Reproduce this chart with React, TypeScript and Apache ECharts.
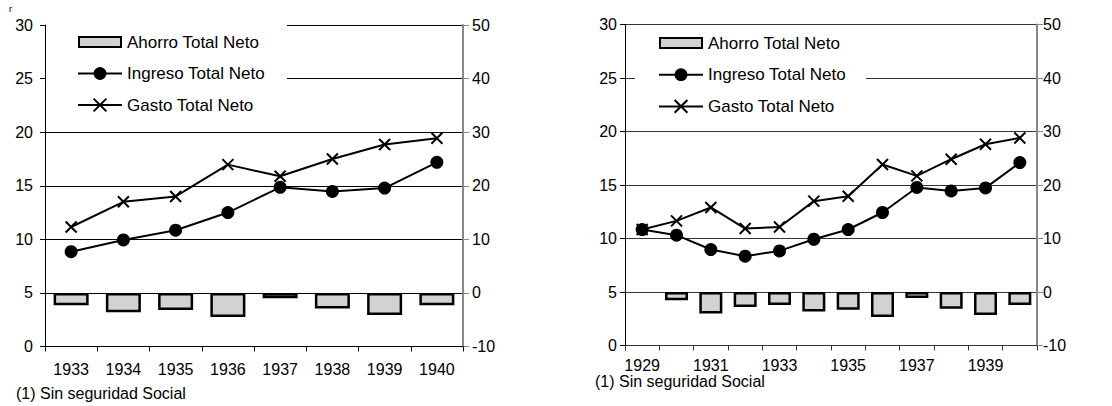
import React, { useEffect, useRef } from 'react';
import * as echarts from 'echarts';

const leftYears = ['1933', '1934', '1935', '1936', '1937', '1938', '1939', '1940'];
const leftAhorro = [-2.3, -3.6, -3.2, -4.5, -1.0, -2.9, -4.1, -2.3];
const leftIngreso = [8.85, 9.94, 10.85, 12.5, 14.85, 14.47, 14.78, 17.19];
const leftGasto = [11.15, 13.5, 14.0, 16.97, 15.88, 17.5, 18.85, 19.44];

const rightYears = ['1929', '1930', '1931', '1932', '1933', '1934', '1935', '1936', '1937', '1938', '1939', '1940'];
const rightAhorro = [null, -1.55, -4.0, -2.8, -2.45, -3.65, -3.3, -4.65, -1.1, -3.15, -4.3, -2.45];
const rightIngreso = [10.84, 10.31, 8.97, 8.35, 8.84, 9.93, 10.84, 12.43, 14.77, 14.45, 14.73, 17.1];
const rightGasto = [10.84, 11.65, 12.9, 10.93, 11.08, 13.49, 13.95, 16.92, 15.85, 17.41, 18.81, 19.4];

const leftTicks = { min: 0, max: 30, interval: 5 };
const rightTicks = { min: -10, max: 50, interval: 10 };

const names = ['Ahorro Total Neto', 'Ingreso Total Neto', 'Gasto Total Neto'];
const footnote = '(1) Sin seguridad Social';

const FONT = 'Liberation Sans, Arial, sans-serif';
const CROSS = 'path://M0,0L10,10M10,0L0,10';
const BAR_ICON = 'path://M0,0M44,16M1,3L43,3L43,13L1,13Z';

function makeAxes(gi: number, years: string[], opts: any) {
  const xAxis = {
    type: 'category',
    gridIndex: gi,
    data: years,
    axisLine: { show: true, lineStyle: { color: opts.xColor, width: 1 } },
    axisTick: { show: true, inside: false, length: 5, interval: 0, lineStyle: { color: opts.xColor } },
    axisLabel: { color: '#000', fontSize: 16, fontFamily: FONT, margin: opts.xMargin, interval: opts.labelInterval },
    splitLine: { show: false },
  };
  const yLeft = {
    type: 'value',
    gridIndex: gi,
    ...leftTicks,
    axisLine: { show: true, lineStyle: { color: '#000', width: 1 } },
    axisTick: { show: true, inside: false, length: 5, lineStyle: { color: '#000' } },
    axisLabel: { color: '#000', fontSize: 16, fontFamily: FONT, margin: opts.yMargin },
    splitLine: { show: true, lineStyle: { color: opts.gridColor, width: 1 } },
  };
  const yRight = {
    type: 'value',
    gridIndex: gi,
    position: 'right',
    ...rightTicks,
    axisLine: { show: true, lineStyle: { color: '#888', width: 2 } },
    axisTick: { show: true, inside: false, length: 6, lineStyle: { color: '#888' } },
    axisLabel: { color: '#000', fontSize: 16, fontFamily: FONT, margin: opts.yRMargin },
    splitLine: { show: false },
  };
  return { xAxis, yAxes: [yLeft, yRight] };
}

function makeSeries(xi: number, yl: number, yr: number, ahorro: any[], ingreso: number[], gasto: number[]) {
  return [
    {
      name: names[0],
      type: 'bar',
      xAxisIndex: xi,
      yAxisIndex: yr,
      data: ahorro,
      barWidth: '67%',
      itemStyle: { color: '#d2d2d2', borderColor: '#000', borderWidth: 2.5 },
      silent: true,
    },
    {
      name: names[1],
      type: 'line',
      xAxisIndex: xi,
      yAxisIndex: yl,
      data: ingreso,
      symbol: 'circle',
      symbolSize: 13,
      itemStyle: { color: '#000' },
      lineStyle: { color: '#000', width: 2 },
      silent: true,
    },
    {
      name: names[2],
      type: 'line',
      xAxisIndex: xi,
      yAxisIndex: yl,
      data: gasto,
      symbol: CROSS,
      symbolSize: 11,
      itemStyle: { color: '#000', borderColor: '#000', borderWidth: 2 },
      lineStyle: { color: '#000', width: 2 },
      z: 3,
      silent: true,
    },
  ];
}

function makeLegend(left: number, top: number, padding: number[], gap: number) {
  return {
    orient: 'vertical',
    left,
    top,
    padding,
    backgroundColor: '#fff',
    itemWidth: 44,
    itemHeight: 16,
    itemGap: gap,
    selectedMode: false,
    align: 'left',
    textStyle: { color: '#000', fontSize: 17, fontFamily: FONT, lineHeight: 20 },
    data: [
      { name: names[0], icon: BAR_ICON },
      { name: names[1] },
      { name: names[2] },
    ],
  };
}

export default function App() {
  const ref = useRef<HTMLDivElement>(null);
  useEffect(() => {
    const chart = echarts.init(ref.current!, null, { renderer: 'svg' });
    const a = makeAxes(0, leftYears, { xColor: '#000', xMargin: 15, yMargin: 12, yRMargin: 9, gridColor: '#000', labelInterval: 0 });
    const b = makeAxes(1, rightYears, { xColor: '#333', xMargin: 12, yMargin: 8, yRMargin: 6, gridColor: '#333', labelInterval: 1 });
    const option: any = {
      animation: false,
      backgroundColor: '#fff',
      textStyle: { fontFamily: FONT },
      grid: [
        { left: 45, top: 25, width: 418, height: 321.5 },
        { left: 625, top: 24.5, width: 412, height: 321 },
      ],
      xAxis: [a.xAxis, b.xAxis],
      yAxis: [...a.yAxes, ...b.yAxes],
      legend: [
        makeLegend(46, 20, [12, 22, 10, 31], 11.5),
        makeLegend(635, 27, [6, 20, 8, 23], 11.7),
      ],
      series: [
        ...makeSeries(0, 0, 1, leftAhorro, leftIngreso, leftGasto),
        ...makeSeries(1, 2, 3, rightAhorro, rightIngreso, rightGasto),
      ],
      graphic: [
        { type: 'text', left: 9, top: 4, style: { text: 'r', fontSize: 9, fontFamily: FONT, fill: '#000' } },
        { type: 'text', left: 16, top: 385, style: { text: footnote, fontSize: 16, fontFamily: FONT, fill: '#000' } },
        { type: 'text', left: 595, top: 373, style: { text: footnote, fontSize: 16, fontFamily: FONT, fill: '#000' } },
      ],
    };
    chart.setOption(option);
    return () => chart.dispose();
  }, []);
  return (
    <div
      ref={ref}
      style={{ position: 'absolute', left: 0, top: 0, width: 1112, height: 406, background: '#fff' }}
    />
  );
}
